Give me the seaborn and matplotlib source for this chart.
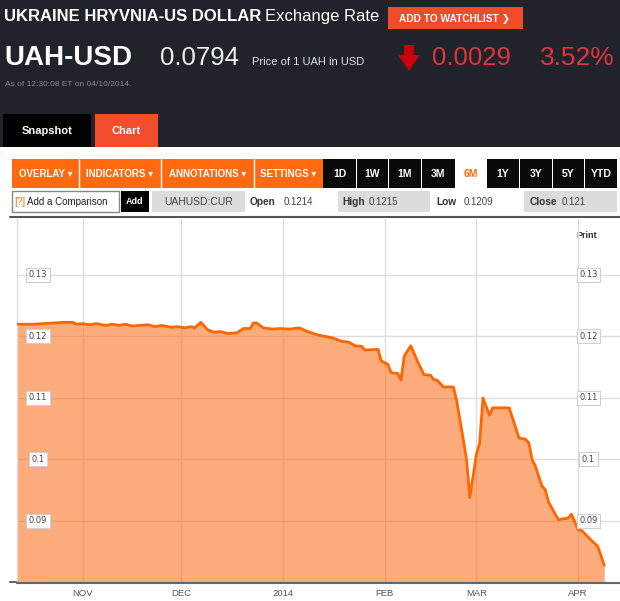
import matplotlib
matplotlib.use("Agg")
import matplotlib.pyplot as plt
import matplotlib.transforms as mtransforms
from matplotlib.patches import Rectangle, Polygon
import pandas as pd
import seaborn as sns

# ---------------- data ----------------
dates = [
    "2013-10-12", "2013-10-14", "2013-10-17", "2013-10-20", "2013-10-23", "2013-10-26",
    "2013-10-29", "2013-10-30", "2013-11-01", "2013-11-03", "2013-11-05", "2013-11-08",
    "2013-11-10", "2013-11-12", "2013-11-14", "2013-11-16", "2013-11-18", "2013-11-21",
    "2013-11-23", "2013-11-25", "2013-11-28", "2013-11-30", "2013-12-02", "2013-12-04",
    "2013-12-05", "2013-12-07", "2013-12-09", "2013-12-11", "2013-12-13", "2013-12-15",
    "2013-12-18", "2013-12-20", "2013-12-22", "2013-12-23", "2013-12-24", "2013-12-26",
    "2013-12-29", "2013-12-31", "2014-01-03", "2014-01-06", "2014-01-09", "2014-01-12",
    "2014-01-16", "2014-01-19", "2014-01-21", "2014-01-23", "2014-01-25", "2014-01-26",
    "2014-01-30", "2014-01-31", "2014-02-02", "2014-02-03", "2014-02-05", "2014-02-06",
    "2014-02-07", "2014-02-09", "2014-02-11", "2014-02-13", "2014-02-15", "2014-02-16",
    "2014-02-17", "2014-02-19", "2014-02-22", "2014-02-23", "2014-02-25", "2014-02-26",
    "2014-02-27", "2014-03-01", "2014-03-02", "2014-03-03", "2014-03-05", "2014-03-06",
    "2014-03-11", "2014-03-12", "2014-03-14", "2014-03-16", "2014-03-17", "2014-03-18",
    "2014-03-19", "2014-03-21", "2014-03-22", "2014-03-23", "2014-03-26", "2014-03-29",
    "2014-03-30", "2014-04-01", "2014-04-02", "2014-04-05", "2014-04-07", "2014-04-09",
]
values = [
    0.1220, 0.1220, 0.1220, 0.1221, 0.1222, 0.1223,
    0.1223, 0.1220, 0.1221, 0.1219, 0.1221, 0.1218,
    0.1220, 0.1218, 0.1220, 0.1217, 0.1218, 0.1219,
    0.1216, 0.1218, 0.1215, 0.1216, 0.1214, 0.1216,
    0.1214, 0.1223, 0.1211, 0.1207, 0.1208, 0.1205,
    0.1206, 0.1213, 0.1213, 0.1222, 0.1222, 0.1214,
    0.1212, 0.1213, 0.1212, 0.1214, 0.1207, 0.1202,
    0.1198, 0.1192, 0.1191, 0.1185, 0.1184, 0.1178,
    0.1179, 0.1160, 0.1155, 0.1141, 0.1140, 0.1129,
    0.1168, 0.1185, 0.1160, 0.1138, 0.1137, 0.1130,
    0.1129, 0.1118, 0.1118, 0.1095, 0.1033, 0.1000,
    0.0938, 0.1008, 0.1027, 0.1100, 0.1072, 0.1084,
    0.1084, 0.1068, 0.1035, 0.1033, 0.1027, 0.1000,
    0.0989, 0.0957, 0.0951, 0.0931, 0.0902, 0.0905,
    0.0911, 0.0886, 0.0885, 0.0869, 0.0859, 0.0828,
]
month_ticks = ["2013-11-01", "2013-12-01", "2014-01-01", "2014-02-01", "2014-03-01", "2014-04-01"]
month_labels = ["NOV", "DEC", "2014", "FEB", "MAR", "APR"]
y_ticks = [0.09, 0.10, 0.11, 0.12, 0.13]
y_labels = ["0.09", "0.1", "0.11", "0.12", "0.13"]

title_bold = "UKRAINE HRYVNIA-US DOLLAR"
title_rest = "Exchange Rate"
ticker = "UAH-USD"
price = "0.0794"
price_note = "Price of 1 UAH in USD"
change = "0.0029"
change_pct = "3.52%"
asof = "As of 12:30:08 ET on 04/10/2014."
symbol = "UAHUSD:CUR"
ohlc_names = ["Open", "High", "Low", "Close"]
ohlc_values = ["0.1214", "0.1215", "0.1209", "0.121"]
range_buttons = ["1D", "1W", "1M", "3M", "6M", "1Y", "3Y", "5Y", "YTD"]
menu_items = ["OVERLAY \u25BE", "INDICATORS \u25BE", "ANNOTATIONS \u25BE", "SETTINGS \u25BE"]

# ---------------- style ----------------
sns.set_style("white")
plt.rcParams["font.family"] = ["Liberation Sans", "DejaVu Sans"]

W, H = 620, 601
fig = plt.figure(figsize=(W / 100, H / 100), dpi=100)
fig.patch.set_facecolor("white")

bg = fig.add_axes([0, 0, 1, 1])
bg.set_xlim(0, W)
bg.set_ylim(H, 0)
bg.axis("off")

DARK = "#202329"
ORANGE = "#ff6a10"
RED_BTN = "#f04b2d"


def rect(x0, y0, x1, y1, fc, ec="none", lw=0):
    bg.add_patch(Rectangle((x0, y0), x1 - x0, y1 - y0, facecolor=fc, edgecolor=ec, lw=lw))


def txt(x, y, s, size, color, weight="normal", ha="left", va="baseline", **kw):
    bg.text(x, y, s, fontsize=size, color=color, fontweight=weight, ha=ha, va=va, **kw)


# header
rect(0, 0, W, 147, DARK)
txt(4, 21, title_bold, 12, "white", "bold")
txt(265, 21, title_rest, 12, "white", "normal")
rect(388, 7, 523, 29, RED_BTN)
txt(455, 18.5, "ADD TO WATCHLIST \u276F", 7.3, "white", "bold", ha="center", va="center")

txt(4, 65, ticker, 20, "white", "bold")
txt(160, 65, price, 18.5, "#f0f0f0")
txt(252, 65, price_note, 8, "#e0e0e0")
bg.add_patch(Polygon([(404, 45), (414, 45), (414, 55), (420, 55), (409, 71), (398, 55), (404, 55)],
                     closed=True, facecolor="#c8000a", edgecolor="none"))
txt(432, 65, change, 18.5, "#e3343e")
txt(540, 65, change_pct, 19, "#e3343e")
txt(5, 86, asof, 6, "#8a8a8a")

rect(3, 114, 91, 147, "#000000")
txt(47, 131, "Snapshot", 8, "white", "bold", ha="center", va="center")
rect(95, 114, 158, 147, "#f24d2c")
txt(126.5, 131, "Chart", 8, "white", "bold", ha="center", va="center")

# toolbar
rect(12, 159, 323, 188, ORANGE)
seps = [12, 79, 161, 254, 323]
for i, item in enumerate(menu_items):
    if 0 < i:
        bg.plot([seps[i], seps[i]], [159, 188], color="white", lw=1)
    txt((seps[i] + seps[i + 1]) / 2, 174, item, 7, "white", "bold", ha="center", va="center")
btn_x = [(323, 356), (357, 388), (389, 421), (422, 455), (456, 486), (487, 519), (520, 552), (553, 584), (585, 617)]
for lab, (a, b) in zip(range_buttons, btn_x):
    if lab == "6M":
        txt((a + b) / 2, 174, lab, 7.5, ORANGE, "bold", ha="center", va="center")
    else:
        rect(a, 159, b, 188, "#0a0a0a")
        txt((a + b) / 2, 174, lab, 7.5, "white", "bold", ha="center", va="center")

# row 2
rect(12, 191, 119, 212, "white", ec="#888888", lw=1)
txt(14, 202, "[?]", 7, ORANGE, "normal", va="center")
txt(27, 202, "Add a Comparison", 7, "#222222", va="center")
rect(121, 191, 149, 212, "#000000")
txt(135, 202, "Add", 6.5, "white", "bold", ha="center", va="center")
rect(152, 191, 245, 212, "#dcdcdc")
txt(198.5, 202, symbol, 7.5, "#444444", ha="center", va="center")
rect(338, 191, 430, 212, "#dcdcdc")
rect(524, 191, 617, 212, "#dcdcdc")
ohlc_x = [(250, 284), (342, 369), (436, 464), (530, 562)]
for name, val, (xa, xb) in zip(ohlc_names, ohlc_values, ohlc_x):
    txt(xa, 202, name, 7.3, "#333333", "bold", va="center")
    txt(xb, 202, val, 7, "#444444", va="center")
bg.plot([10, 620], [216.5, 216.5], color="#555555", lw=1.5)
bg.plot([10, 18], [582, 582], color="#666666", lw=1.5)

txt(587, 236, "Print", 6.5, "#333333", "bold", ha="center", va="center")

# ---------------- chart ----------------
df = pd.DataFrame({"date": pd.to_datetime(dates), "value": values})
ax = fig.add_axes([17 / W, 1 - 582.5 / H, (W - 17) / W, (582.5 - 219) / H])
ax.set_facecolor("none")
ax.patch.set_alpha(0)

ax.set_xlim(pd.Timestamp("2013-10-11 21:36"), pd.Timestamp("2014-04-13 19:12"))
ax.set_ylim(0.08, 0.08 + (582.5 - 219) / 6150)
ax.set_xticks(pd.to_datetime(month_ticks))
ax.set_xticklabels(month_labels)
ax.set_yticks(y_ticks)
ax.set_yticklabels([])
ax.grid(True, color="#dddddd", lw=1)
ax.set_axisbelow(True)

ax.fill_between(df["date"], df["value"], 0.08, color="#fa7321", alpha=0.6, lw=0, zorder=2)
sns.lineplot(data=df, x="date", y="value", ax=ax, color="#ff6600", lw=2, zorder=3)
ax.set_xlabel("")
ax.set_ylabel("")

for s in ["top", "right"]:
    ax.spines[s].set_visible(False)
ax.spines["left"].set_color("#dddddd")
ax.spines["left"].set_linewidth(1)
ax.spines["bottom"].set_color("#666666")
ax.spines["bottom"].set_linewidth(1.5)
ax.tick_params(axis="both", length=0)
ax.tick_params(axis="x", pad=5, labelsize=6.8, labelcolor="#555555")

trans = mtransforms.blended_transform_factory(ax.transAxes, ax.transData)
for v, lab in zip(y_ticks, y_labels):
    for xc in [(38 - 17) / (W - 17), (588.5 - 17) / (W - 17)]:
        ax.text(xc, v, lab, transform=trans, ha="center", va="center", fontsize=6,
                color="#444444", family="DejaVu Sans", zorder=5,
                bbox=dict(boxstyle="square,pad=0.3", fc="white", ec="#d0d0d0", lw=0.8))

fig.savefig("out.png", dpi=100)
